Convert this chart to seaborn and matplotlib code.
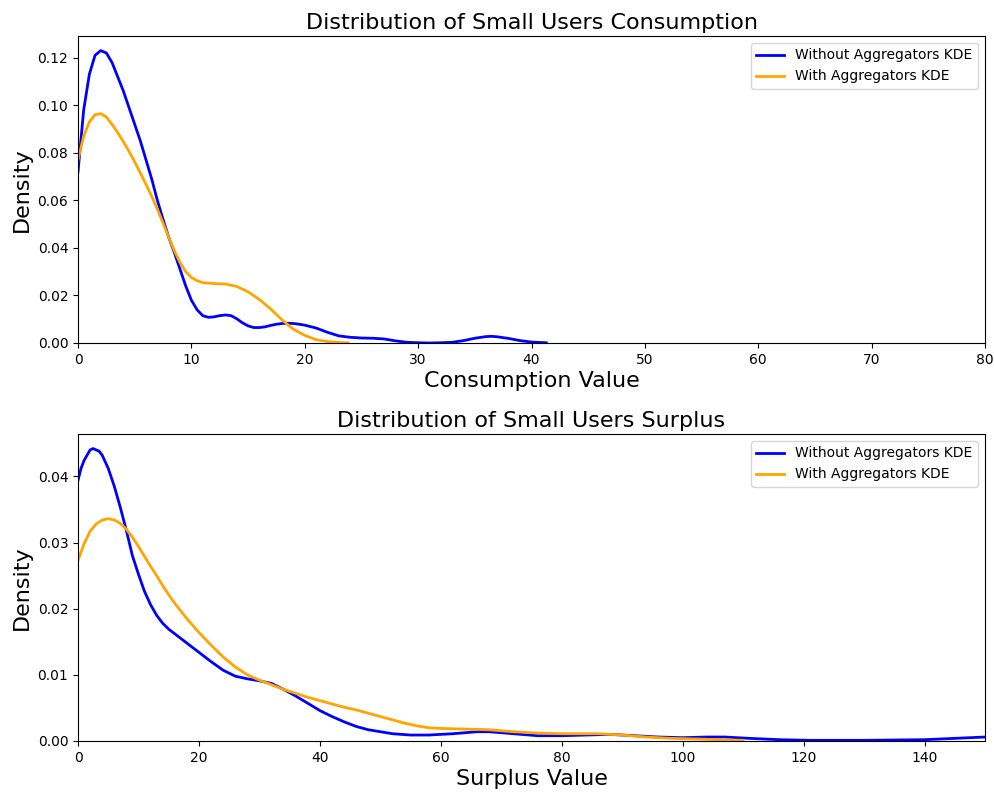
import matplotlib
matplotlib.use("Agg")
import matplotlib.pyplot as plt
import seaborn as sns

# Density curves for small users' consumption
cons_x_without = [0, 0.5, 1.0, 1.5, 2.0, 2.5, 3.0, 3.5, 4.0, 4.5, 5.0, 5.5, 6.0, 6.5, 7.0,
                  7.5, 8.0, 8.5, 9.0, 9.5, 10.0, 10.5, 11.0, 11.5, 12.0, 12.5, 13.0, 13.5,
                  14.0, 14.5, 15.0, 15.5, 16.0, 16.5, 17.0, 17.5, 18.0, 18.5, 19.0, 19.5,
                  20.0, 21.0, 22.0, 23.0, 24.0, 25.0, 26.0, 27.0, 28.0, 29.0, 30.0, 31.0,
                  32.0, 33.0, 34.0, 35.0, 36.0, 36.5, 37.0, 38.0, 39.0, 40.0, 41.3]
cons_y_without = [0.072, 0.098, 0.113, 0.121, 0.123, 0.122, 0.118, 0.112, 0.106, 0.099,
                  0.092, 0.085, 0.077, 0.069, 0.060, 0.052, 0.0445, 0.038, 0.031, 0.024,
                  0.018, 0.014, 0.0115, 0.0108, 0.011, 0.0115, 0.0118, 0.0115, 0.0102,
                  0.0085, 0.0072, 0.0065, 0.0065, 0.0068, 0.0074, 0.0079, 0.0082, 0.0083,
                  0.0082, 0.0079, 0.0075, 0.0063, 0.0045, 0.0030, 0.0024, 0.0021, 0.0020,
                  0.0017, 0.0009, 0.0003, 0.0001, 0.0000, 0.0001, 0.0003, 0.0010, 0.0020,
                  0.0027, 0.0028, 0.0026, 0.0019, 0.0010, 0.0004, 0.0001]

cons_x_with = [0, 0.5, 1.0, 1.5, 2.0, 2.5, 3.0, 3.5, 4.0, 4.5, 5.0, 5.5, 6.0, 6.5, 7.0, 7.5,
               8.0, 8.5, 9.0, 9.5, 10.0, 10.5, 11.0, 12.0, 13.0, 14.0, 15.0, 16.0, 17.0,
               18.0, 19.0, 20.0, 21.0, 22.0, 23.0, 23.8]
cons_y_with = [0.077, 0.087, 0.093, 0.096, 0.0965, 0.095, 0.092, 0.0885, 0.0847, 0.0806,
               0.0762, 0.0715, 0.0667, 0.0617, 0.0563, 0.0505, 0.0445, 0.0388, 0.0338,
               0.0300, 0.0276, 0.0262, 0.0254, 0.025, 0.0248, 0.0238, 0.0215, 0.0183,
               0.0143, 0.0097, 0.0058, 0.0032, 0.0014, 0.0006, 0.0002, 0.0001]

# Density curves for small users' surplus
surp_x_without = [0, 0.5, 1.0, 1.5, 2.0, 2.5, 3.0, 3.5, 4.0, 4.5, 5.0, 6.0, 7.0, 8.0, 9.0,
                  10.0, 11.0, 12.0, 13.0, 14.0, 15.0, 16.0, 18.0, 20.0, 22.0, 24.0, 26.0,
                  28.0, 30.0, 32.0, 34.0, 36.0, 38.0, 40.0, 42.0, 44.0, 46.0, 48.0, 50.0,
                  52.0, 55.0, 58.0, 62.0, 66.0, 68.0, 72.0, 76.0, 80.0, 84.0, 88.0, 92.0,
                  96.0, 100.0, 104.0, 107.0, 111.0, 116.0, 121.0, 130.0, 140.0, 145.0, 150.0]
surp_y_without = [0.0394, 0.0412, 0.0424, 0.0432, 0.0440, 0.0442, 0.0440, 0.0438, 0.0432,
                  0.0422, 0.0412, 0.0385, 0.0353, 0.0318, 0.0280, 0.0252, 0.0226, 0.0206,
                  0.0190, 0.0178, 0.0169, 0.0162, 0.0148, 0.0134, 0.0120, 0.0107, 0.0098,
                  0.0094, 0.0091, 0.0087, 0.0078, 0.0068, 0.0057, 0.0046, 0.0037, 0.0029,
                  0.0022, 0.0017, 0.0014, 0.0011, 0.0009, 0.0009, 0.0011, 0.0014, 0.0014,
                  0.0011, 0.0008, 0.0008, 0.0009, 0.0010, 0.0008, 0.0006, 0.0005, 0.0006,
                  0.0006, 0.0004, 0.0002, 0.0001, 0.0001, 0.0002, 0.0004, 0.0006]

surp_x_with = [0, 1.0, 2.0, 3.0, 4.0, 5.0, 6.0, 7.0, 8.0, 9.0, 10.0, 11.0, 12.0, 13.0,
               14.0, 15.0, 16.0, 18.0, 20.0, 22.0, 24.0, 26.0, 28.0, 30.0, 32.0, 34.0,
               36.0, 38.0, 40.0, 42.0, 44.0, 46.0, 48.0, 50.0, 52.0, 54.0, 56.0, 58.0,
               60.0, 64.0, 68.0, 72.0, 76.0, 80.0, 86.0, 90.0, 94.0, 98.0, 102.0, 106.0, 110.0]
surp_y_with = [0.0273, 0.0298, 0.0317, 0.0328, 0.0334, 0.0336, 0.0334, 0.0329, 0.0320,
               0.0308, 0.0294, 0.0279, 0.0264, 0.0250, 0.0235, 0.0221, 0.0208, 0.0185,
               0.0164, 0.0145, 0.0127, 0.0112, 0.0100, 0.0092, 0.0085, 0.0078, 0.0072,
               0.0066, 0.0061, 0.0056, 0.0051, 0.0047, 0.0042, 0.0037, 0.0032, 0.0027,
               0.0023, 0.0020, 0.0019, 0.0018, 0.0017, 0.0014, 0.0012, 0.0011, 0.0011,
               0.0009, 0.0006, 0.0004, 0.0003, 0.0002, 0.0001]

series_labels = ["Without Aggregators KDE", "With Aggregators KDE"]
series_colors = ["blue", "orange"]

fig = plt.figure(figsize=(9.95, 7.96), dpi=100)
ax_top = fig.add_axes([0.0784, 0.5691, 0.9116, 0.3857])
ax_bot = fig.add_axes([0.0784, 0.0691, 0.9116, 0.3857])

panels = [
    (ax_top, [(cons_x_without, cons_y_without), (cons_x_with, cons_y_with)],
     "Distribution of Small Users Consumption", "Consumption Value", (0, 80)),
    (ax_bot, [(surp_x_without, surp_y_without), (surp_x_with, surp_y_with)],
     "Distribution of Small Users Surplus", "Surplus Value", (0, 150)),
]

for ax, curves, title, xlabel, xlim in panels:
    for (xs, ys), lab, col in zip(curves, series_labels, series_colors):
        sns.lineplot(x=xs, y=ys, ax=ax, color=col, linewidth=2, label=lab)
    ax.set_xlim(*xlim)
    ax.set_ylim(bottom=0)
    ax.set_title(title, fontsize=16, pad=5)
    ax.set_xlabel(xlabel, fontsize=16, labelpad=3)
    ax.set_ylabel("Density", fontsize=16)
    ax.legend(loc="upper right", fontsize=10)

fig.savefig("out.png", dpi=100)
